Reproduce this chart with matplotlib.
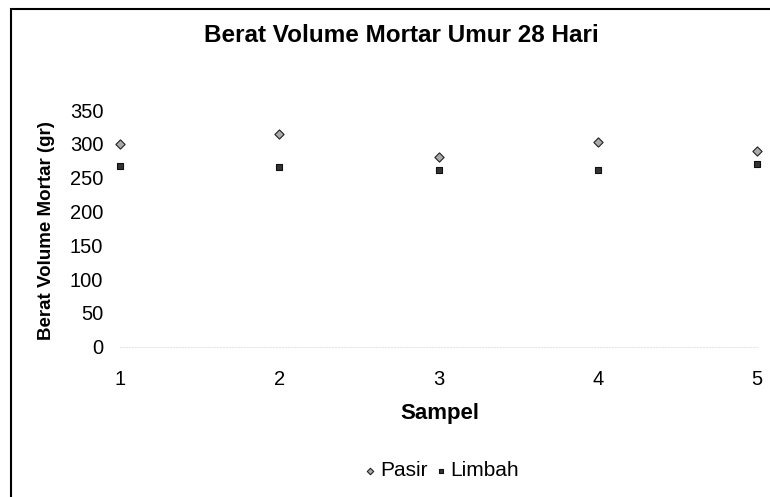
import matplotlib
matplotlib.use("Agg")
import matplotlib.pyplot as plt
from matplotlib.patches import Rectangle

plt.rcParams['font.family'] = ['Liberation Sans', 'DejaVu Sans']

samples = [1, 2, 3, 4, 5]
pasir = [299, 315, 281, 302, 289]
limbah = [267, 266, 262, 262, 270]
yticks = [0, 50, 100, 150, 200, 250, 300, 350]

fig = plt.figure(figsize=(7.7, 4.97), dpi=100)
ax = fig.add_axes([120/770, 1-346.7/497, (757-120)/770, (346.7-110)/497])

ax.scatter(samples, pasir, marker='D', s=22, facecolor='#aaaaaa', edgecolor='#222222',
           linewidths=0.8, label='Pasir', clip_on=False, zorder=3)
ax.scatter(samples, limbah, marker='s', s=24, facecolor='#333333', edgecolor='#111111',
           linewidths=0.8, label='Limbah', clip_on=False, zorder=3)

ax.set_xlim(1, 5)
ax.set_ylim(0, 350)
ax.set_xticks(samples)
ax.set_yticks(yticks)
ax.tick_params(axis='both', length=0, labelsize=14.5)
ax.tick_params(axis='x', pad=17)
ax.tick_params(axis='y', pad=12)
for s in ['top', 'right', 'left']:
    ax.spines[s].set_visible(False)
ax.spines['bottom'].set_color('#e6e6e6')
ax.spines['bottom'].set_linestyle(':')

fig.text(401/770, 1-35/497, 'Berat Volume Mortar Umur 28 Hari', ha='center', va='center',
         fontsize=17.5, fontweight='bold')
fig.text(47/770, 1-231/497, 'Berat Volume Mortar (gr)', ha='center', va='center',
         rotation=90, fontsize=13.5, fontweight='bold')
fig.text(440/770, 1-413/497, 'Sampel', ha='center', va='center',
         fontsize=16, fontweight='bold')

leg = fig.legend(loc='center', bbox_to_anchor=(441/770, 1-471/497), ncol=2, frameon=False,
                 fontsize=15, handletextpad=0.1, columnspacing=0.3, markerscale=0.7,
                 handlelength=0.7)

fig.add_artist(Rectangle((11/770, -0.05), 1.1, 1.05 - 9/497, transform=fig.transFigure,
                         fill=False, edgecolor='black', linewidth=1.5))

fig.savefig('out.png', dpi=100)
